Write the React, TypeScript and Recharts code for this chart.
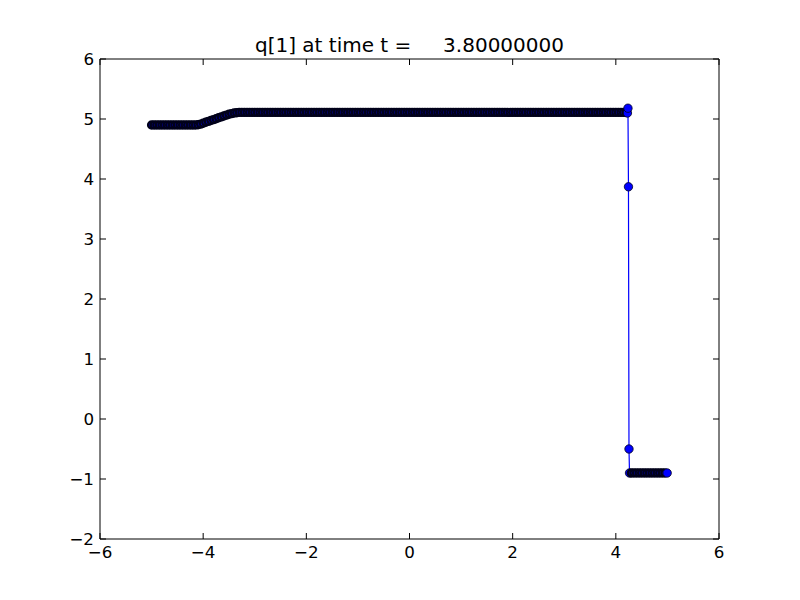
import { LineChart, Line, XAxis, YAxis } from "recharts";

const title = "q[1] at time t =     3.80000000";

const xTicks = [-6, -4, -2, 0, 2, 4, 6];
const yTicks = [-2, -1, 0, 1, 2, 3, 4, 5, 6];

// left plateau
const xLeft = [-5.0, -4.95, -4.9, -4.85, -4.8, -4.75, -4.7, -4.65, -4.6, -4.55, -4.5, -4.45, -4.4, -4.35, -4.3, -4.25, -4.2, -4.15];
const qLeft = [4.9, 4.9, 4.9, 4.9, 4.9, 4.9, 4.9, 4.9, 4.9, 4.9, 4.9, 4.9, 4.9, 4.9, 4.9, 4.9, 4.9, 4.9];

// ramp up
const xRamp = [-4.1, -4.05, -4.0, -3.95, -3.9, -3.85, -3.8, -3.75, -3.7, -3.65, -3.6, -3.55, -3.5, -3.45, -3.4, -3.35];
const qRamp = [4.905, 4.915, 4.93, 4.945, 4.96, 4.975, 4.99, 5.005, 5.02, 5.035, 5.05, 5.065, 5.08, 5.09, 5.1, 5.105];

// upper plateau
const xTop = [
  -3.3, -3.25, -3.2, -3.15, -3.1, -3.05, -3.0, -2.95, -2.9, -2.85,
  -2.8, -2.75, -2.7, -2.65, -2.6, -2.55, -2.5, -2.45, -2.4, -2.35,
  -2.3, -2.25, -2.2, -2.15, -2.1, -2.05, -2.0, -1.95, -1.9, -1.85,
  -1.8, -1.75, -1.7, -1.65, -1.6, -1.55, -1.5, -1.45, -1.4, -1.35,
  -1.3, -1.25, -1.2, -1.15, -1.1, -1.05, -1.0, -0.95, -0.9, -0.85,
  -0.8, -0.75, -0.7, -0.65, -0.6, -0.55, -0.5, -0.45, -0.4, -0.35,
  -0.3, -0.25, -0.2, -0.15, -0.1, -0.05, 0.0, 0.05, 0.1, 0.15,
  0.2, 0.25, 0.3, 0.35, 0.4, 0.45, 0.5, 0.55, 0.6, 0.65,
  0.7, 0.75, 0.8, 0.85, 0.9, 0.95, 1.0, 1.05, 1.1, 1.15,
  1.2, 1.25, 1.3, 1.35, 1.4, 1.45, 1.5, 1.55, 1.6, 1.65,
  1.7, 1.75, 1.8, 1.85, 1.9, 1.95, 2.0, 2.05, 2.1, 2.15,
  2.2, 2.25, 2.3, 2.35, 2.4, 2.45, 2.5, 2.55, 2.6, 2.65,
  2.7, 2.75, 2.8, 2.85, 2.9, 2.95, 3.0, 3.05, 3.1, 3.15,
  3.2, 3.25, 3.3, 3.35, 3.4, 3.45, 3.5, 3.55, 3.6, 3.65,
  3.7, 3.75, 3.8, 3.85, 3.9, 3.95, 4.0, 4.05, 4.1, 4.15,
  4.2,
];
const qTop = [
  5.11, 5.11, 5.11, 5.11, 5.11, 5.11, 5.11, 5.11, 5.11, 5.11,
  5.11, 5.11, 5.11, 5.11, 5.11, 5.11, 5.11, 5.11, 5.11, 5.11,
  5.11, 5.11, 5.11, 5.11, 5.11, 5.11, 5.11, 5.11, 5.11, 5.11,
  5.11, 5.11, 5.11, 5.11, 5.11, 5.11, 5.11, 5.11, 5.11, 5.11,
  5.11, 5.11, 5.11, 5.11, 5.11, 5.11, 5.11, 5.11, 5.11, 5.11,
  5.11, 5.11, 5.11, 5.11, 5.11, 5.11, 5.11, 5.11, 5.11, 5.11,
  5.11, 5.11, 5.11, 5.11, 5.11, 5.11, 5.11, 5.11, 5.11, 5.11,
  5.11, 5.11, 5.11, 5.11, 5.11, 5.11, 5.11, 5.11, 5.11, 5.11,
  5.11, 5.11, 5.11, 5.11, 5.11, 5.11, 5.11, 5.11, 5.11, 5.11,
  5.11, 5.11, 5.11, 5.11, 5.11, 5.11, 5.11, 5.11, 5.11, 5.11,
  5.11, 5.11, 5.11, 5.11, 5.11, 5.11, 5.11, 5.11, 5.11, 5.11,
  5.11, 5.11, 5.11, 5.11, 5.11, 5.11, 5.11, 5.11, 5.11, 5.11,
  5.11, 5.11, 5.11, 5.11, 5.11, 5.11, 5.11, 5.11, 5.11, 5.11,
  5.11, 5.11, 5.11, 5.11, 5.11, 5.11, 5.11, 5.11, 5.11, 5.11,
  5.11, 5.11, 5.11, 5.11, 5.11, 5.11, 5.11, 5.11, 5.11, 5.11,
  5.11,
];

// the shock
const xJump = [4.225, 4.235, 4.245, 4.255, 4.265];
const qJump = [5.1, 5.18, 3.87, -0.5, -0.9];

// right plateau
const xRight = [4.3, 4.35, 4.4, 4.45, 4.5, 4.55, 4.6, 4.65, 4.7, 4.75, 4.8, 4.85, 4.9, 4.95, 4.995];
const qRight = [-0.9, -0.9, -0.9, -0.9, -0.9, -0.9, -0.9, -0.9, -0.9, -0.9, -0.9, -0.9, -0.9, -0.9, -0.9];

const xs = [...xLeft, ...xRamp, ...xTop, ...xJump, ...xRight];
const qs = [...qLeft, ...qRamp, ...qTop, ...qJump, ...qRight];
const data = xs.map((x, i) => ({ x, q: qs[i] }));

const FONT = "DejaVu Sans";
const TICK_FS = 16.7;
const TICK_LEN = 6;

const fmt = (v: number) => (v < 0 ? `\u2212${Math.abs(v)}` : `${v}`);

const BottomTick = ({ x, y, payload }: any) => (
  <g>
    <line x1={x} x2={x} y1={y} y2={y - TICK_LEN} stroke="#000" />
    <text x={x} y={y + 19} textAnchor="middle" fontSize={TICK_FS} fontFamily={FONT} fill="#000">
      {fmt(payload.value)}
    </text>
  </g>
);

const TopTick = ({ x, y }: any) => (
  <line x1={x} x2={x} y1={y} y2={y + TICK_LEN} stroke="#000" />
);

const LeftTick = ({ x, y, payload }: any) => (
  <g>
    <line x1={x} x2={x + TICK_LEN} y1={y} y2={y} stroke="#000" />
    <text x={x - 6} y={y + 6} textAnchor="end" fontSize={TICK_FS} fontFamily={FONT} fill="#000">
      {fmt(payload.value)}
    </text>
  </g>
);

const RightTick = ({ x, y }: any) => (
  <line x1={x} x2={x - TICK_LEN} y1={y} y2={y} stroke="#000" />
);

// isolated markers keep a thin edge; the dense run gets a heavier one so it reads dark
const Marker = ({ cx, cy, payload }: any) => {
  if (cx == null || cy == null) return null;
  const lone = xJump.includes(payload.x) || payload.x === 4.995;
  return (
    <circle
      cx={cx}
      cy={cy}
      r={lone ? 4.2 : 3.5}
      fill="#0000ff"
      stroke="#00001a"
      strokeWidth={lone ? 0.8 : 2.4}
    />
  );
};

export default function App() {
  return (
    <div style={{ position: "absolute", left: 0, top: 0, width: 800, height: 600, background: "#fff" }}>
      <svg width={800} height={60} style={{ position: "absolute", left: 0, top: 0 }}>
        <text
          x={409.5}
          y={52}
          textAnchor="middle"
          fontSize={20}
          fontFamily={FONT}
          fill="#000"
          style={{ whiteSpace: "pre" }}
        >
          {title}
        </text>
      </svg>
      <div style={{ position: "absolute", left: 0, top: 0 }}>
        <LineChart width={800} height={600} data={data} margin={{ top: 29, right: 51, bottom: 31, left: 60 }}>
          <XAxis
            dataKey="x"
            type="number"
            domain={[-6, 6]}
            ticks={xTicks}
            interval={0}
            height={30}
            tickSize={0}
            tickMargin={0}
            tickLine={false}
            axisLine={{ stroke: "#000" }}
            tick={(p: any) => <BottomTick {...p} />}
            allowDataOverflow
          />
          <XAxis
            xAxisId="top"
            orientation="top"
            dataKey="x"
            type="number"
            domain={[-6, 6]}
            ticks={xTicks}
            interval={0}
            height={30}
            tickSize={0}
            tickMargin={0}
            tickLine={false}
            axisLine={{ stroke: "#000" }}
            tick={(p: any) => <TopTick {...p} />}
            allowDataOverflow
          />
          <YAxis
            type="number"
            domain={[-2, 6]}
            ticks={yTicks}
            interval={0}
            width={40}
            tickSize={0}
            tickMargin={0}
            tickLine={false}
            axisLine={{ stroke: "#000" }}
            tick={(p: any) => <LeftTick {...p} />}
            allowDataOverflow
          />
          <YAxis
            yAxisId="right"
            orientation="right"
            type="number"
            domain={[-2, 6]}
            ticks={yTicks}
            interval={0}
            width={30}
            tickSize={0}
            tickMargin={0}
            tickLine={false}
            axisLine={{ stroke: "#000" }}
            tick={(p: any) => <RightTick {...p} />}
            allowDataOverflow
          />
          <Line
            dataKey="q"
            type="linear"
            stroke="#0000ff"
            strokeWidth={1.2}
            dot={(p: any) => <Marker key={p.index} {...p} />}
            activeDot={false}
            isAnimationActive={false}
          />
        </LineChart>
      </div>
    </div>
  );
}
